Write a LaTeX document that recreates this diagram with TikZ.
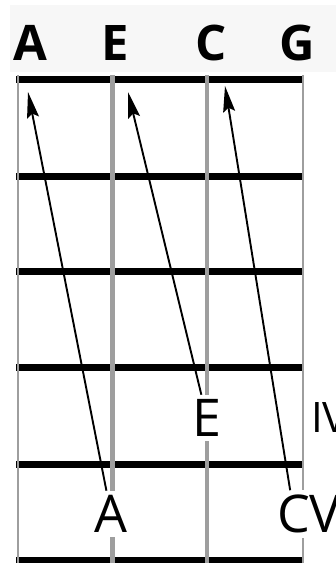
\documentclass[tikz,border=0pt]{standalone}
\usepackage{fontspec}
\setmainfont{Open Sans}
\usetikzlibrary{arrows.meta,positioning}
\definecolor{band}{HTML}{F7F7F7}
\definecolor{strg}{HTML}{9E9E9E}

\begin{document}
\begin{tikzpicture}[x=1pt,y=-1pt,
  fret/.style={line width=7pt},
  strng/.style={draw=strg},
  head/.style={font=\fontsize{49}{49}\selectfont\bfseries,inner sep=0pt,anchor=base},
  note/.style={fill=white,inner sep=4.5pt,font=\fontsize{52}{52}\selectfont},
  fretnum/.style={inner sep=0pt,anchor=west,font=\fontsize{52}{52}\selectfont},
  pointer/.style={-{Stealth[length=26pt,width=12pt,inset=4pt]},line width=1.9pt}]
\useasboundingbox (0,0) rectangle (336,563);
\fill[band] (10,5) rectangle (336,72);

% string names
\node[head] (hA) at (30,60) {A};
\node[head] (hE) at (115,60) {E};
\node[head] (hC) at (211,60) {C};
\node[head] (hG) at (297,60) {G};

% frets
\foreach \y in {79.5,176,271.5,367,464,560}
  \draw[fret] (16,\y) -- (304,\y);

% strings
\foreach \x/\w in {17.5/2pt,112.5/5pt,207/3.5pt,302.5/2pt}
  \draw[strng,line width=\w] (\x,75) -- (\x,563);

% fingered notes
\node[note] (nE) at (207,418) {E};
\node[note] (nA) at (111,514) {A};
\node[note] (nC) at (294,514) {C};
\node[fretnum,font=\fontsize{42}{42}\selectfont] (pIV) at (311,418) {IV};
\node[fretnum] (pV) at (309,514) {V};

\coordinate (tA) at (28,92);
\coordinate (tE) at (128,92);
\coordinate (tC) at (225,86);
\draw[pointer] (nA) -- (tA);
\draw[pointer] (nE) -- (tE);
\draw[pointer] (nC) -- (tC);
\end{tikzpicture}
\end{document}
